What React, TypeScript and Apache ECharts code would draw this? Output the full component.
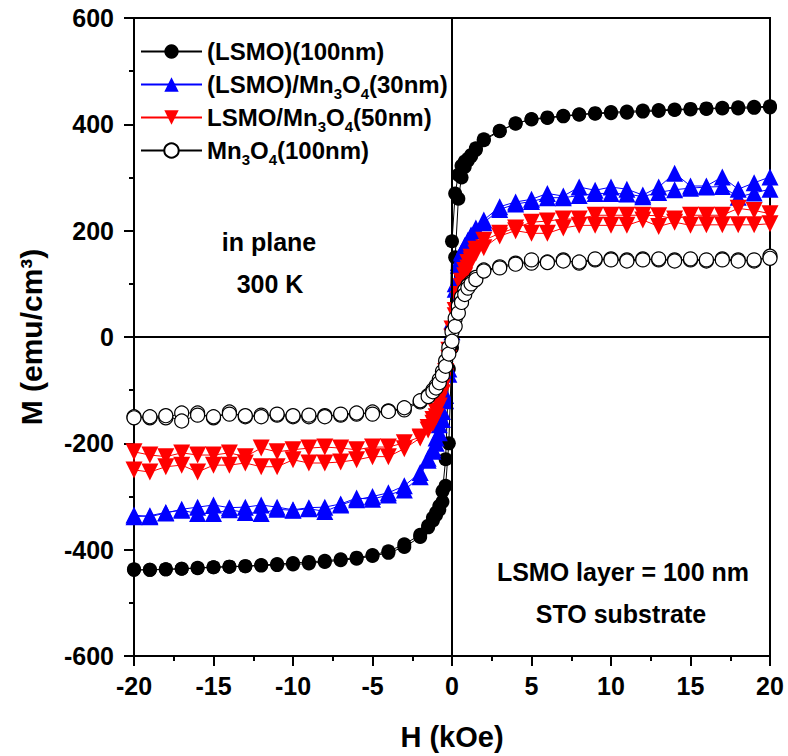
import React, { useEffect, useRef } from "react";
import * as echarts from "echarts";

// Applied field sweep (kOe): descending branch, then ascending branch
const fieldDown = [20, 19, 18, 17, 16, 15, 14, 13, 12, 11, 10, 9, 8, 7, 6, 5, 4, 3, 2, 1.5, 1.2, 1, 0.8, 0.6, 0.4, 0.2, 0, -0.2, -0.4, -0.6, -0.8, -1, -1.2, -1.5, -2, -3, -4, -5, -6, -7, -8, -9, -10, -11, -12, -13, -14, -15, -16, -17, -18, -19, -20];
const fieldUp = [-20, -19, -18, -17, -16, -15, -14, -13, -12, -11, -10, -9, -8, -7, -6, -5, -4, -3, -2, -1.5, -1.2, -1, -0.8, -0.6, -0.4, -0.2, 0, 0.2, 0.4, 0.6, 0.8, 1, 1.2, 1.5, 2, 3, 4, 5, 6, 7, 8, 9, 10, 11, 12, 13, 14, 15, 16, 17, 18, 19, 20];

// (LSMO)(100nm)
const lsmoDown = [432, 431, 430, 430, 429, 428, 427, 425, 424, 422, 421, 420, 418, 415, 412, 409, 402, 387, 370, 355, 342, 335, 330, 322, 305, 270, 180, -60, -230, -290, -318, -330, -340, -355, -376, -395, -406, -412, -417, -420, -423, -426, -428, -429, -430, -431, -432, -433, -435, -436, -437, -438, -438];
const lsmoUp = [-437, -438, -437, -436, -434, -433, -432, -431, -429, -427, -425, -423, -421, -418, -415, -410, -403, -390, -372, -358, -345, -335, -325, -310, -280, -200, -20, 150, 260, 300, 320, 332, 340, 352, 372, 388, 401, 410, 413, 416, 419, 421, 423, 424, 426, 427, 428, 429, 430, 431, 432, 433, 434];

// (LSMO)/Mn3O4(30nm)
const bi30Down = [301, 290, 278, 301, 284, 284, 308, 282, 267, 278, 282, 276, 282, 265, 270, 259, 254, 245, 220, 205, 192, 182, 172, 160, 140, 100, 30, -60, -110, -140, -165, -190, -210, -228, -263, -288, -297, -305, -303, -314, -320, -321, -325, -320, -316, -320, -321, -316, -320, -324, -331, -338, -335];
const bi30Up = [-338, -336, -330, -326, -332, -332, -325, -330, -332, -324, -326, -323, -328, -316, -306, -300, -293, -280, -255, -232, -215, -200, -180, -155, -120, -70, 10, 90, 135, 158, 170, 180, 190, 200, 215, 240, 250, 255, 262, 262, 266, 270, 270, 269, 264, 272, 277, 280, 282, 283, 263, 271, 278];

// LSMO/Mn3O4(50nm)
const bi50Down = [232, 238, 242, 229, 229, 229, 222, 228, 229, 229, 229, 229, 222, 222, 218, 216, 205, 195, 182, 165, 150, 140, 125, 105, 80, 50, 15, -25, -65, -95, -120, -140, -155, -170, -188, -199, -207, -207, -212, -209, -207, -209, -212, -216, -209, -225, -218, -222, -222, -218, -225, -222, -216];
const bi50Up = [-250, -254, -244, -241, -254, -241, -241, -237, -244, -244, -231, -237, -237, -235, -231, -225, -225, -210, -190, -175, -162, -150, -130, -105, -75, -40, 0, 40, 70, 95, 115, 130, 145, 158, 168, 190, 200, 195, 195, 205, 210, 210, 210, 210, 220, 208, 216, 210, 211, 211, 211, 211, 213];

// Mn3O4(100nm)
const mnoDown = [152, 143, 145, 147, 143, 145, 145, 145, 147, 145, 147, 145, 139, 145, 141, 139, 139, 132, 126, 112, 103, 97, 88, 75, 58, 35, 10, -20, -45, -65, -80, -92, -100, -110, -122, -137, -139, -141, -145, -147, -148, -150, -150, -147, -147, -150, -141, -152, -143, -143, -152, -152, -150];
const mnoUp = [-152, -150, -148, -158, -147, -150, -145, -148, -150, -145, -148, -147, -150, -145, -143, -145, -140, -133, -120, -112, -103, -96, -86, -72, -55, -32, -8, 20, 45, 65, 80, 92, 100, 108, 124, 130, 137, 145, 140, 143, 141, 147, 145, 143, 145, 147, 143, 147, 145, 145, 143, 145, 148];

const seriesNames = ["(LSMO)(100nm)", "(LSMO)/Mn3O4(30nm)", "LSMO/Mn3O4(50nm)", "Mn3O4(100nm)"];
const xTicks = { min: -20, max: 20, interval: 5 };
const yTicks = { min: -600, max: 600, interval: 200 };

const loop = (down: number[], up: number[]) =>
  fieldDown.map((h, i) => [h, down[i]]).concat(fieldUp.map((h, i) => [h, up[i]]));

const FONT = "'Liberation Sans', Arial, sans-serif";

export default function App() {
  const ref = useRef<HTMLDivElement>(null);
  useEffect(() => {
    if (!ref.current) return;
    const chart = echarts.init(ref.current, null, { renderer: "svg" });
    const axisCommon = {
      axisLine: { show: true, onZero: false, lineStyle: { color: "#000", width: 2 } },
      axisTick: { show: true, inside: false, length: 10, lineStyle: { color: "#000", width: 2 } },
      minorTick: { show: true, splitNumber: 2, length: 5, lineStyle: { color: "#000", width: 2 } },
      splitLine: { show: false },
      axisLabel: { color: "#000", fontFamily: FONT, fontWeight: "bold", fontSize: 25 },
      nameTextStyle: { color: "#000", fontFamily: FONT, fontWeight: "bold", fontSize: 29 },
    };
    const annot = (text: string, x: number, y: number) => ({
      type: "text",
      x,
      y,
      style: { text, align: "center", verticalAlign: "middle", font: `bold 25px ${FONT}`, fill: "#000" },
    });
    const option = {
      animation: false,
      backgroundColor: "#fff",
      grid: { left: 134, right: 18, top: 18, bottom: 100, show: true, borderColor: "#000", borderWidth: 2, backgroundColor: "transparent" },
      xAxis: {
        type: "value",
        ...xTicks,
        name: "H (kOe)",
        nameLocation: "middle",
        nameGap: 66,
        ...axisCommon,
        axisLabel: { ...axisCommon.axisLabel, margin: 17 },
      },
      yAxis: {
        type: "value",
        ...yTicks,
        name: "M (emu/cm³)",
        nameLocation: "middle",
        nameGap: 88,
        ...axisCommon,
        nameTextStyle: { ...axisCommon.nameTextStyle, fontSize: 30 },
        axisLabel: { ...axisCommon.axisLabel, margin: 20 },
      },
      legend: {
        orient: "vertical",
        left: 135,
        top: 30,
        itemWidth: 61,
        itemHeight: 18,
        itemGap: 0,
        data: seriesNames,
        formatter: (name: string) => name.replace("Mn3O4", "Mn{sub|3}O{sub|4}"),
        textStyle: {
          color: "#000",
          fontFamily: FONT,
          fontWeight: "bold",
          fontSize: 24,
          lineHeight: 33,
          rich: {
            sub: { fontFamily: FONT, fontWeight: "bold", fontSize: 15, lineHeight: 15, verticalAlign: "bottom", color: "#000" },
          },
        },
      },
      graphic: [
        annot("in plane", 269, 242),
        annot("300 K", 270, 284),
        annot("LSMO layer = 100 nm", 623, 572),
        annot("STO substrate", 621, 614),
      ],
      series: [
        {
          name: seriesNames[0],
          type: "line",
          data: loop(lsmoDown, lsmoUp),
          symbol: "circle",
          symbolSize: 14,
          itemStyle: { color: "#000" },
          lineStyle: { color: "#000", width: 1 },
          markLine: {
            silent: true,
            symbol: "none",
            label: { show: false },
            lineStyle: { color: "#000", width: 2, type: "solid" },
            data: [{ xAxis: 0 }, { yAxis: 0 }],
          },
          z: 2,
        },
        {
          name: seriesNames[1],
          type: "line",
          data: loop(bi30Down, bi30Up),
          symbol: "triangle",
          symbolSize: 17,
          itemStyle: { color: "#0000ff" },
          lineStyle: { color: "#0000ff", width: 1 },
          z: 3,
        },
        {
          name: seriesNames[2],
          type: "line",
          data: loop(bi50Down, bi50Up),
          symbol: "triangle",
          symbolRotate: 180,
          symbolSize: 17,
          itemStyle: { color: "#ff0000" },
          lineStyle: { color: "#ff0000", width: 1 },
          z: 4,
        },
        {
          name: seriesNames[3],
          type: "line",
          data: loop(mnoDown, mnoUp),
          symbol: "circle",
          symbolSize: 14,
          itemStyle: { color: "#fff", borderColor: "#000", borderWidth: 1.2 },
          lineStyle: { color: "#000", width: 1 },
          z: 5,
        },
      ],
    };
    chart.setOption(option as any);
    return () => chart.dispose();
  }, []);
  return <div ref={ref} style={{ width: 788, height: 756, position: "absolute", left: 0, top: 0 }} />;
}
